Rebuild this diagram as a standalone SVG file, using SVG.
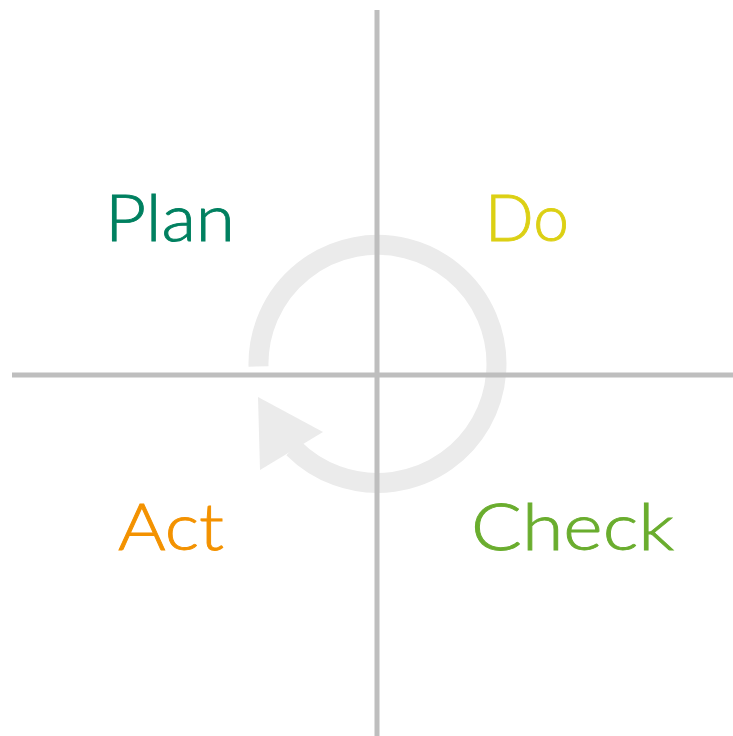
<svg xmlns="http://www.w3.org/2000/svg" width="733" height="736" viewBox="0 0 733 736">
<style>
.axis{stroke:#bebebe;stroke-width:5;fill:none}
.cycle{stroke:#ebebeb;stroke-width:20;fill:none}
.lbl{font-family:"Lato","Noto Sans","Liberation Sans",sans-serif;font-weight:300;font-size:66px;text-anchor:middle;stroke-width:0.9}
</style>
<rect width="733" height="736" fill="#ffffff"/>
<g id="connectors">
<path class="cycle" d="M 258.5 366.5 A 119 119 0 1 1 293.4 448.1"/>
<polygon points="258,397 323,432 260,470" fill="#ebebeb"/>
<line class="axis" x1="377" y1="10" x2="377" y2="736"/>
<line class="axis" x1="12" y1="375" x2="733" y2="375"/>
</g>
<g id="plan"><text class="lbl" x="170" y="241" fill="#008060" stroke="#008060" textLength="130" lengthAdjust="spacingAndGlyphs">Plan</text></g>
<g id="do"><text class="lbl" x="527" y="241" fill="#dcd014" stroke="#dcd014" textLength="84" lengthAdjust="spacingAndGlyphs">Do</text></g>
<g id="act"><text class="lbl" x="171" y="550" fill="#f39200" stroke="#f39200" textLength="106" lengthAdjust="spacingAndGlyphs">Act</text></g>
<g id="check"><text class="lbl" x="572.5" y="550" fill="#6aad2e" stroke="#6aad2e" textLength="203" lengthAdjust="spacingAndGlyphs">Check</text></g>
</svg>
